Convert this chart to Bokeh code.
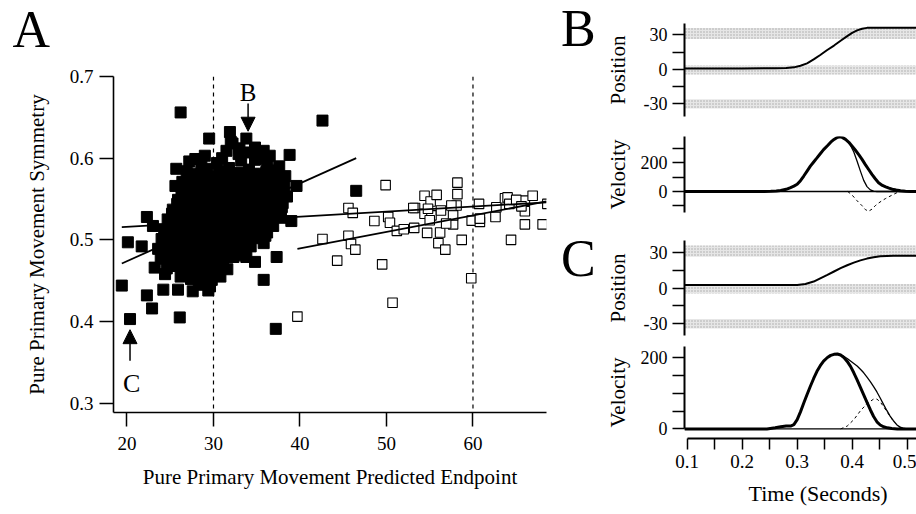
from bokeh.plotting import figure
from bokeh.models import Range1d, FixedTicker, Span, Label, Arrow, NormalHead, Title
from bokeh.layouts import row, column
from bokeh.embed import file_html
from bokeh.resources import INLINE

FONT = "Liberation Serif"

# ---------------- Panel A data ----------------
filled_x = [26.2, 42.6, 46.5, 19.4, 20.35, 20.1, 22.3, 22.9, 24.2, 25.9, 26.1, 27.6, 29.4, 37.2, 35.8,
            37.3, 33.8, 34.8, 25.7, 25.6, 22.3, 23.0, 21.7, 23.2, 24.4, 29.5, 31.9, 33.8, 27.9, 38.8,
            39.6, 39.0, 37.9, 35.8, 34.8, 31.5, 32.9, 38.3, 36.9, 35.8, 32.0, 35.3, 33.0, 32.2, 34.2, 36.5,
            27.2, 28.6, 30.4, 33.2, 36.2, 37.6,
            26.9, 28.1, 29.3, 30.6, 31.8, 33.0, 34.1, 35.0, 36.1, 37.3,
            26.4, 27.6, 28.7, 29.9, 31.1, 32.3, 33.5, 34.6, 35.8, 37.0, 38.2,
            26.8, 28.0, 29.2, 30.4, 31.6, 32.7, 33.9, 35.1, 36.3, 37.5, 38.5,
            25.9, 27.1, 28.4, 29.6, 30.8, 32.0, 33.2, 34.4, 35.6, 36.8, 38.0,
            25.3, 26.5, 27.7, 28.9, 30.1, 31.3, 32.5, 33.7, 34.9, 36.1, 37.2,
            24.7, 25.9, 27.1, 28.3, 29.5, 30.7, 31.9, 33.1, 34.3, 35.5, 36.7, 37.8,
            24.3, 25.5, 26.7, 27.9, 29.1, 30.3, 31.5, 32.7, 33.9, 35.1, 36.2,
            24.0, 25.2, 26.4, 27.6, 28.8, 30.0, 31.2, 32.4, 33.6, 34.8, 36.0,
            23.6, 24.8, 26.0, 27.2, 28.4, 29.6, 30.8, 32.0, 33.2, 34.3,
            23.9, 25.1, 26.3, 27.5, 28.7, 29.9, 31.1, 32.3,
            24.6, 25.8, 27.0, 28.2, 29.4, 30.6, 31.6,
            26.2, 27.4, 28.6, 29.8, 30.8,
            28.3, 29.6,
            29.0, 31.0, 34.8,
            27.5, 28.7, 29.9, 31.1, 32.3, 33.5, 34.7, 35.9, 37.0,
            27.0, 28.2, 29.4, 30.6, 31.8, 33.0, 34.2, 35.4, 36.6, 37.8,
            26.3, 27.5, 28.7, 29.9, 31.1, 32.3, 33.5, 34.7, 35.9, 37.1,
            25.8, 27.0, 28.2, 29.4, 30.6, 31.8, 33.0, 34.2, 35.4, 36.6, 37.6,
            25.2, 26.4, 27.6, 28.8, 30.0, 31.2, 32.4, 33.6, 34.8, 36.0, 37.2,
            24.9, 26.1, 27.3, 28.5, 29.7, 30.9, 32.1, 33.3, 34.5, 35.7, 36.9,
            24.6, 25.8, 27.0, 28.2, 29.4, 30.6, 31.8, 33.0, 34.2, 35.4,
            24.4, 25.6, 26.8, 28.0, 29.2, 30.4, 31.6, 32.8, 34.0,
            24.4, 25.6, 26.8, 28.0, 29.2, 30.4, 31.6, 32.8,
            25.0, 26.2, 27.4, 28.6, 29.8, 31.0,
            26.6, 27.8, 29.0, 30.2]
filled_y = [0.656, 0.646, 0.560, 0.444, 0.403, 0.497, 0.432, 0.416, 0.439, 0.439, 0.405, 0.437, 0.438, 0.391, 0.451,
            0.479, 0.479, 0.473, 0.587, 0.566, 0.528, 0.517, 0.492, 0.466, 0.458, 0.624, 0.632, 0.624, 0.599, 0.604,
            0.566, 0.523, 0.540, 0.609, 0.613, 0.609, 0.605, 0.578, 0.585, 0.496, 0.620, 0.600, 0.612, 0.618, 0.607, 0.603,
            0.596, 0.592, 0.594, 0.597, 0.594, 0.590,
            0.584, 0.581, 0.587, 0.583, 0.588, 0.582, 0.586, 0.581, 0.583, 0.579,
            0.571, 0.575, 0.570, 0.574, 0.569, 0.576, 0.572, 0.568, 0.574, 0.570, 0.566,
            0.560, 0.563, 0.558, 0.564, 0.559, 0.565, 0.561, 0.557, 0.562, 0.558, 0.553,
            0.549, 0.552, 0.547, 0.551, 0.546, 0.553, 0.548, 0.551, 0.546, 0.550, 0.545,
            0.537, 0.540, 0.535, 0.539, 0.534, 0.541, 0.536, 0.539, 0.534, 0.538, 0.533,
            0.525, 0.528, 0.523, 0.527, 0.522, 0.529, 0.524, 0.527, 0.522, 0.526, 0.521, 0.527,
            0.513, 0.516, 0.511, 0.515, 0.510, 0.517, 0.512, 0.515, 0.510, 0.514, 0.509,
            0.501, 0.504, 0.499, 0.503, 0.498, 0.505, 0.500, 0.503, 0.498, 0.502, 0.505,
            0.489, 0.492, 0.487, 0.491, 0.486, 0.493, 0.488, 0.491, 0.487, 0.492,
            0.477, 0.480, 0.475, 0.479, 0.474, 0.481, 0.476, 0.479,
            0.465, 0.468, 0.463, 0.467, 0.462, 0.469, 0.464,
            0.455, 0.452, 0.456, 0.451, 0.455,
            0.445, 0.443,
            0.603, 0.600, 0.598,
            0.578, 0.580, 0.577, 0.581, 0.579, 0.577, 0.580, 0.578, 0.576,
            0.567, 0.565, 0.568, 0.566, 0.569, 0.565, 0.567, 0.564, 0.568, 0.563,
            0.556, 0.554, 0.557, 0.555, 0.553, 0.557, 0.554, 0.556, 0.553, 0.555,
            0.544, 0.542, 0.545, 0.543, 0.546, 0.542, 0.544, 0.541, 0.545, 0.543, 0.541,
            0.532, 0.530, 0.533, 0.531, 0.534, 0.530, 0.532, 0.529, 0.533, 0.531, 0.530,
            0.520, 0.518, 0.521, 0.519, 0.522, 0.518, 0.520, 0.517, 0.521, 0.519, 0.517,
            0.508, 0.506, 0.509, 0.507, 0.510, 0.506, 0.508, 0.505, 0.509, 0.507,
            0.496, 0.494, 0.497, 0.495, 0.498, 0.494, 0.496, 0.493, 0.497,
            0.484, 0.482, 0.485, 0.483, 0.486, 0.482, 0.484, 0.481,
            0.472, 0.470, 0.473, 0.471, 0.474, 0.470,
            0.460, 0.458, 0.461, 0.459]
open_x = [39.7, 50.7, 59.8, 49.5, 44.3, 42.6, 45.6, 45.9, 46.4, 45.6, 46.1, 49.9, 48.6, 50.2, 50.4,
          51.2, 52.0, 53.2, 53.3, 54.4, 54.4, 54.7, 55.1, 55.8, 55.2, 55.0, 56.0, 56.8, 56.2, 57.7,
          58.2, 58.2, 58.1, 57.7, 58.7, 59.85, 60.7, 60.8, 62.7, 62.6, 63.7, 64.4, 64.0, 64.2, 66.0,
          66.0, 66.0, 66.9, 68.05, 68.6, 56.9, 57.5, 56.3, 54.8, 60.8, 65.0, 65.6, 53.1]
open_y = [0.406, 0.423, 0.453, 0.470, 0.4745, 0.501, 0.505, 0.495, 0.488, 0.539, 0.533, 0.567, 0.523, 0.528, 0.521,
          0.511, 0.513, 0.5146, 0.539, 0.554, 0.532, 0.5085, 0.547, 0.555, 0.530, 0.524, 0.496, 0.488, 0.509, 0.519,
          0.570, 0.556, 0.542, 0.530, 0.500, 0.5235, 0.544, 0.522, 0.540, 0.528, 0.551, 0.500, 0.552, 0.544, 0.548,
          0.535, 0.519, 0.554, 0.519, 0.544, 0.520, 0.542, 0.536, 0.538, 0.526, 0.549, 0.541, 0.539]
fit_all_x = [19.4, 68.5]
fit_all_y = [0.5155, 0.546]
fit_filled_x = [19.4, 46.5]
fit_filled_y = [0.471, 0.600]
fit_open_x = [39.7, 68.5]
fit_open_y = [0.489, 0.547]
target_lines = [30, 60]
a_xticks = [20, 30, 40, 50, 60]
a_yticks = [0.3, 0.4, 0.5, 0.6, 0.7]
arrow_b = [34.0, 0.667, 0.633]   # x, tail y, tip y
arrow_c = [20.35, 0.352, 0.390]

# ---------------- Panels B / C data ----------------
band_lo = [26.5, -4.5, -34.0]
band_hi = [36.0, 3.5, -26.0]
band_t = [0.09, 0.52]

b_pos_t = [0.095, 0.200, 0.260, 0.280, 0.294, 0.306, 0.318, 0.330, 0.342, 0.354, 0.367, 0.379, 0.391,
           0.400, 0.409, 0.418, 0.427, 0.440, 0.517]
b_pos_v = [0.9, 0.9, 1.0, 1.2, 1.8, 3.2, 5.3, 8.7, 12.6, 16.7, 20.8, 25.0, 29.0, 31.8, 34.0, 35.4, 36.2, 36.4, 36.4]

c_pos_t = [0.095, 0.250, 0.300, 0.315, 0.330, 0.342, 0.355, 0.367, 0.379, 0.391, 0.403, 0.415, 0.427,
           0.439, 0.451, 0.463, 0.475, 0.517]
c_pos_v = [2.6, 2.6, 2.7, 3.6, 5.6, 8.3, 11.2, 14.1, 16.9, 19.4, 21.6, 23.5, 25.0, 26.2, 27.0, 27.3, 27.4, 27.4]

b_vel_t = [0.095, 0.240, 0.252, 0.262, 0.270, 0.280, 0.288, 0.294, 0.300, 0.306, 0.312, 0.318, 0.324, 0.330,
           0.336, 0.342, 0.348, 0.355, 0.361, 0.367, 0.372, 0.377, 0.382, 0.388, 0.394, 0.400, 0.406, 0.412,
           0.418, 0.424, 0.430, 0.436, 0.442, 0.448, 0.455, 0.461, 0.467, 0.473, 0.480, 0.488, 0.497, 0.506, 0.517]
b_thick_v = [0, 0, 2, 4, 7, 15, 27, 37, 50, 75, 107, 141, 175, 204, 232, 261, 289, 316, 341, 360, 372, 378,
             374, 360, 340, 313, 285, 255, 222, 186, 152, 118, 88, 61, 42, 32, 23, 16, 10, 5, 2, 0, 0]
b_thin_t = [0.095, 0.240, 0.252, 0.262, 0.270, 0.280, 0.288, 0.294, 0.300, 0.306, 0.312, 0.318, 0.324, 0.330,
            0.336, 0.342, 0.348, 0.355, 0.361, 0.367, 0.372, 0.377, 0.382, 0.388, 0.391, 0.397, 0.403, 0.409,
            0.415, 0.421, 0.427, 0.433, 0.439, 0.445, 0.517]
b_thin_v = [0, 0, 2, 4, 7, 15, 27, 37, 50, 75, 107, 141, 175, 204, 232, 261, 289, 316, 341, 360, 372, 378,
            372, 358, 350, 318, 273, 209, 141, 77, 34, 11, 2, 0, 0]
b_dash_t = [0.392, 0.400, 0.409, 0.418, 0.424, 0.430, 0.436, 0.442, 0.448, 0.454, 0.461, 0.467, 0.474, 0.482, 0.488]
b_dash_v = [0, -25, -64, -98, -125, -136, -122, -98, -80, -64, -48, -36, -22, -7, 0]

c_vel_t = [0.095, 0.245, 0.260, 0.270, 0.280, 0.288, 0.294, 0.300, 0.306, 0.312, 0.318, 0.324, 0.330, 0.336,
           0.342, 0.348, 0.355, 0.361, 0.367, 0.373, 0.379, 0.385, 0.391, 0.397, 0.403, 0.409, 0.415, 0.421,
           0.427, 0.433, 0.439, 0.445, 0.451, 0.457, 0.464, 0.472, 0.482, 0.517]
c_thick_v = [0, 0, 3, 6, 8, 8, 12, 26, 48, 73, 97, 120, 142, 162, 178, 191, 201, 207, 210, 211, 208, 201,
             190, 176, 158, 138, 117, 96, 75, 54, 35, 20, 11, 6, 3, 1, 0, 0]
c_thin_t = [0.095, 0.245, 0.260, 0.270, 0.280, 0.288, 0.294, 0.300, 0.306, 0.312, 0.318, 0.324, 0.330, 0.336,
            0.342, 0.348, 0.355, 0.361, 0.367, 0.373, 0.379, 0.385, 0.391, 0.397, 0.403, 0.409, 0.415, 0.421,
            0.427, 0.433, 0.439, 0.445, 0.451, 0.457, 0.463, 0.469, 0.475, 0.481, 0.487, 0.493, 0.500, 0.517]
c_thin_v = [0, 0, 3, 6, 8, 8, 12, 26, 48, 73, 97, 120, 142, 162, 178, 191, 201, 207, 210, 211, 208,
            204, 198, 191, 184, 177, 168, 158, 146, 133, 119, 104, 87, 69, 52, 36, 23, 12, 5, 2, 0, 0]
c_dash_t = [0.379, 0.391, 0.403, 0.415, 0.427, 0.439, 0.445, 0.451, 0.457, 0.463, 0.469, 0.475, 0.481, 0.487, 0.493, 0.500]
c_dash_v = [0, 8, 26, 51, 71, 84, 84, 76, 63, 49, 35, 22, 12, 5, 2, 0]

pos_ticks = [-30, 0, 30]
pos_minor = [-15, 15]
b_vel_ticks = [0, 200]
b_vel_minor = [-100, 100, 300]
c_vel_ticks = [0, 200]
c_vel_minor = [50, 100, 150]
t_ticks = [0.1, 0.2, 0.3, 0.4, 0.5]
t_minor = [0.15, 0.25, 0.35, 0.45]


def base_style(p):
    p.grid.visible = False
    p.outline_line_color = None
    p.background_fill_color = "white"
    p.border_fill_color = "white"


def style_axis(ax, tick_len, lab_size, lab_standoff, title_size, title_standoff, lw):
    ax.axis_line_width = lw
    ax.axis_line_color = "black"
    ax.major_tick_line_width = 1.5
    ax.minor_tick_line_width = 1.5
    ax.major_tick_out = tick_len
    ax.major_tick_in = 0
    ax.minor_tick_out = tick_len
    ax.minor_tick_in = 0
    ax.major_label_standoff = lab_standoff
    ax.major_label_text_font = FONT
    ax.major_label_text_font_size = lab_size
    ax.major_label_text_color = "black"
    ax.axis_label_text_font = FONT
    ax.axis_label_text_font_style = "normal"
    ax.axis_label_text_font_size = title_size
    ax.axis_label_text_color = "black"
    ax.axis_label_standoff = title_standoff


def letter_fig(width, height, text, x, y):
    """Small empty canvas whose whole area is the frame; the panel letter sits inside it."""
    p = figure(width=width, height=height, x_range=Range1d(0, width), y_range=Range1d(0, height),
               output_backend="svg", toolbar_location=None, x_axis_location=None, y_axis_location=None,
               min_border_left=0, min_border_right=0, min_border_top=0, min_border_bottom=0)
    base_style(p)
    p.add_layout(Label(x=x, y=y, text=text, text_font=FONT, text_font_size="52px",
                       text_baseline="alphabetic", text_align="left", text_color="black"))
    return p


# ---------------- Panel A ----------------
pLA = letter_fig(560, 60, "A", 12, 31)

pA = figure(width=560, height=454, x_range=Range1d(18.44, 68.5), y_range=Range1d(0.2886, 0.7),
            output_backend="svg", toolbar_location=None,
            min_border_left=113, min_border_right=14, min_border_top=16, min_border_bottom=102)
base_style(pA)
for xv in target_lines:
    pA.add_layout(Span(location=xv, dimension="height", line_color="black", line_dash="4 4",
                       line_width=1.2, level="underlay"))
pA.scatter(filled_x, filled_y, marker="square", size=11, fill_color="black", line_color="black")
pA.scatter(open_x, open_y, marker="square", size=9.5, fill_color="white", line_color="black", line_width=1.1)
pA.line(fit_all_x, fit_all_y, line_color="black", line_width=1.8)
pA.line(fit_filled_x, fit_filled_y, line_color="black", line_width=1.8)
pA.line(fit_open_x, fit_open_y, line_color="black", line_width=1.8)

xa = pA.xaxis[0]
xa.ticker = FixedTicker(ticks=a_xticks)
xa.axis_label = "Pure Primary Movement Predicted Endpoint"
style_axis(xa, 14, "19px", 10, "21px", 12, 1.6)
ya = pA.yaxis[0]
ya.ticker = FixedTicker(ticks=a_yticks)
ya.axis_label = "Pure Primary Movement Symmetry"
style_axis(ya, 14, "19px", 6, "21px", 18, 1.6)

pA.add_layout(Label(x=arrow_b[0], y=0.6805, text="B", text_font=FONT, text_font_size="25px",
                    text_baseline="alphabetic", text_align="center", text_color="black"))
pA.add_layout(Label(x=arrow_c[0] + 0.2, y=0.3245, text="C", text_font=FONT, text_font_size="26px",
                    text_baseline="alphabetic", text_align="center", text_color="black"))
pA.add_layout(Arrow(end=NormalHead(size=14, fill_color="black", line_color="black", line_width=1),
                    x_start=arrow_b[0], y_start=arrow_b[1], x_end=arrow_b[0], y_end=arrow_b[2],
                    line_color="black", line_width=1.5))
pA.add_layout(Arrow(end=NormalHead(size=14, fill_color="black", line_color="black", line_width=1),
                    x_start=arrow_c[0], y_start=arrow_c[1], x_end=arrow_c[0], y_end=arrow_c[2],
                    line_color="black", line_width=1.5))

# ---------------- panel letters B and C ----------------
pLB = letter_fig(40, 226, "B", 0.5, 198)
pLC = letter_fig(40, 288, "C", 0.5, 256)

# ---------------- Panels B / C ----------------
t_range = Range1d(0.0951, 0.517)


def panel(height, top, bottom, yr, x_axis=False):
    p = figure(width=316, height=height, x_range=t_range, y_range=Range1d(*yr),
               output_backend="svg", toolbar_location=None,
               x_axis_location="below" if x_axis else None,
               min_border_left=84, min_border_right=0, min_border_top=top, min_border_bottom=bottom)
    base_style(p)
    return p


def bands(p):
    p.quad(left=[band_t[0]] * len(band_lo), right=[band_t[1]] * len(band_lo), bottom=band_lo, top=band_hi,
           fill_color="#e6e6e6", line_color=None,
           hatch_pattern="dot", hatch_color="#a8a8a8", hatch_scale=3, hatch_weight=1)


f1 = panel(126, 23, 10, (-41, 40))
bands(f1)
f1.line(b_pos_t, b_pos_v, line_color="black", line_width=2)
a = f1.yaxis[0]
a.ticker = FixedTicker(ticks=pos_ticks, minor_ticks=pos_minor)
a.major_label_overrides = {-30: "-30", 0: "0", 30: "30"}
a.axis_label = "Position"
style_axis(a, 12, "18px", 5, "21px", 11, 2)

f2 = panel(100, 10, 14, (-145, 380))
f2.add_layout(Span(location=0, dimension="width", line_color="black", line_width=1.3))
f2.line(b_dash_t, b_dash_v, line_color="black", line_width=1, line_dash="3 3")
f2.line(b_thin_t, b_thin_v, line_color="black", line_width=1.3)
f2.line(b_vel_t, b_thick_v, line_color="black", line_width=3)
a = f2.yaxis[0]
a.ticker = FixedTicker(ticks=b_vel_ticks, minor_ticks=b_vel_minor)
a.axis_label = "Velocity"
style_axis(a, 12, "18px", 5, "21px", 8, 2)

f3 = panel(112, 14, 3, (-40, 40.3))
bands(f3)
f3.line(c_pos_t, c_pos_v, line_color="black", line_width=2)
a = f3.yaxis[0]
a.ticker = FixedTicker(ticks=pos_ticks, minor_ticks=pos_minor)
a.major_label_overrides = {-30: "-30", 0: "0", 30: "30"}
a.axis_label = "Position"
style_axis(a, 12, "18px", 5, "21px", 11, 2)

f4 = panel(176, 8, 76, (-27, 232), x_axis=True)
f4.add_layout(Span(location=0, dimension="width", line_color="black", line_width=1.3))
f4.line(c_dash_t, c_dash_v, line_color="black", line_width=1, line_dash="3 3")
f4.line(c_thin_t, c_thin_v, line_color="black", line_width=1.3)
f4.line(c_vel_t, c_thick_v, line_color="black", line_width=3)
a = f4.yaxis[0]
a.ticker = FixedTicker(ticks=c_vel_ticks, minor_ticks=c_vel_minor)
a.bounds = (0, 232)
a.axis_label = "Velocity"
style_axis(a, 12, "18px", 5, "21px", 8, 2)
xa4 = f4.xaxis[0]
xa4.ticker = FixedTicker(ticks=t_ticks, minor_ticks=t_minor)
xa4.bounds = (0.1, 0.517)
style_axis(xa4, 11, "19px", 5, "21px", 10, 2)
f4.add_layout(Title(text="Time (Seconds)", align="left", offset=64, standoff=16, text_font=FONT,
                    text_font_size="22px", text_font_style="normal", text_color="black"), "below")

layout = row(column(row(pLA), pA), column(row(pLB), row(pLC)), column(f1, f2, f3, f4))
open("out.html", "w").write(file_html(layout, INLINE))
